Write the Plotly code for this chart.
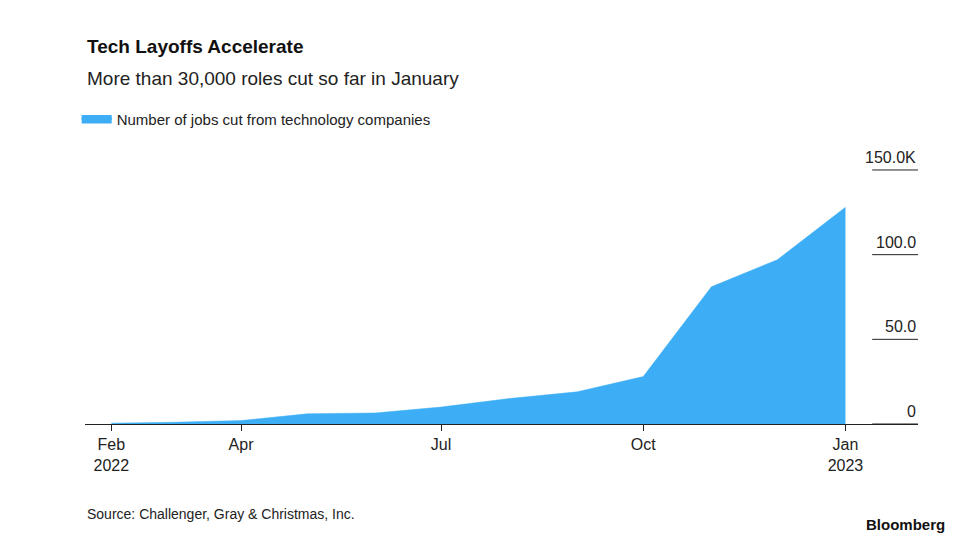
import plotly.graph_objects as go

# données (milliers de postes supprimés, cumul)
months = ["2022-02-01", "2022-03-01", "2022-04-01", "2022-05-01", "2022-06-01", "2022-07-01",
          "2022-08-01", "2022-09-01", "2022-10-01", "2022-11-01", "2022-12-01", "2023-01-01"]
jobs_cut = [0.5, 1, 2, 6, 6.5, 10, 15, 19, 28, 81, 97, 128]

tick_vals = ["2022-02-01", "2022-04-01", "2022-07-01", "2022-10-01", "2023-01-01"]
tick_text = ["Feb<br>2022", "Apr", "Jul", "Oct", "Jan<br>2023"]
y_ticks = [0, 50, 100, 150]
y_labels = ["0", "50.0", "100.0", "150.0K"]

blue = "#3DAEF5"
font = "Liberation Sans, Arial, sans-serif"

fig = go.Figure()
fig.add_trace(go.Scatter(x=months, y=jobs_cut, mode="lines", fill="tozeroy",
                         fillcolor=blue, line=dict(color=blue, width=0.5),
                         name="Number of jobs cut from technology companies"))

# graduations de l'axe y : petits segments à droite avec le libellé au-dessus
for v, lab in zip(y_ticks, y_labels):
    fig.add_shape(type="line", xref="paper", yref="y", x0=0.945, x1=1.0, y0=v, y1=v,
                  line=dict(color="#222", width=1))
    fig.add_annotation(xref="paper", yref="y", x=1.0, y=v, text=lab, showarrow=False,
                       xanchor="right", yanchor="bottom", yshift=2,
                       font=dict(size=16, color="#222", family=font))

fig.add_annotation(xref="paper", yref="paper", x=0, y=1.376, text="<b>Tech Layoffs Accelerate</b>",
                   showarrow=False, xanchor="left", yanchor="middle",
                   font=dict(size=19, color="#111", family=font))
fig.add_annotation(xref="paper", yref="paper", x=0, y=1.26, text="More than 30,000 roles cut so far in January",
                   showarrow=False, xanchor="left", yanchor="middle",
                   font=dict(size=19, color="#222", family=font))
fig.add_annotation(xref="paper", yref="paper", x=0, y=-0.33, text="Source: Challenger, Gray & Christmas, Inc.",
                   showarrow=False, xanchor="left", yanchor="middle",
                   font=dict(size=14, color="#222", family=font))
fig.add_annotation(xref="paper", yref="paper", x=1.035, y=-0.365, text="<b>Bloomberg</b>",
                   showarrow=False, xanchor="right", yanchor="middle",
                   font=dict(size=15, color="#111", family=font))

fig.update_layout(
    width=980, height=560,
    margin=dict(l=77, r=70, t=142, b=144),
    plot_bgcolor="white", paper_bgcolor="white",
    font=dict(family=font, color="#222"),
    showlegend=True,
    legend=dict(x=-0.01, y=1.11, xanchor="left", yanchor="middle", font=dict(size=15),
                itemsizing="constant", bgcolor="rgba(0,0,0,0)"),
)
fig.update_xaxes(range=["2022-01-20", "2023-02-03"], tickvals=tick_vals, ticktext=tick_text,
                 showgrid=False, showline=True, linecolor="#222", linewidth=1.2,
                 ticks="outside", ticklen=6, tickcolor="#222", tickfont=dict(size=16))
fig.update_yaxes(range=[0, 161.8], showgrid=False, showticklabels=False, zeroline=False)

fig.write_html("out.html")
